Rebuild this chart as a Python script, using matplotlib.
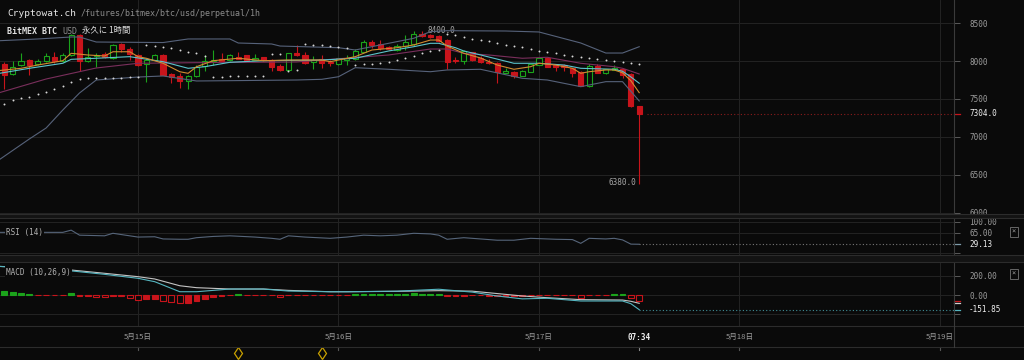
import numpy as np
import matplotlib
matplotlib.use('Agg')
import matplotlib.pyplot as plt
import matplotlib.transforms as mtransforms
from matplotlib.patches import Rectangle
from matplotlib.lines import Line2D

plt.rcParams['font.family'] = ['DejaVu Sans Mono', 'Noto Sans CJK JP']

# ---- data: 1h candles, hour 0 = 5/15 00:00
hours = np.arange(-16, 61)

opens = [7961, 7829, 7943, 8009, 7961, 7996, 8049, 7996, 8083, 8338,
         7996, 8062, 8092, 8040, 8224, 8162, 8075, 7961, 8017, 8075,
         7829, 7799, 7733, 7799, 7930, 7996, 8026, 8009, 8053, 8075,
         8017, 8049, 8017, 7930, 7885, 8105, 8075, 7983, 8026, 7991,
         7961, 8017, 8022, 8122, 8246, 8220, 8188, 8145, 8204, 8220,
         8351, 8342, 8329, 8276, 8013, 8000, 8114, 8040, 7991, 7978,
         7846, 7859, 7807, 7859, 7947, 8036, 7947, 7947, 7904, 7851,
         7671, 7934, 7838, 7882, 7891, 7829, 7408]
highs = [7987, 7996, 8105, 8026, 8026, 8105, 8114, 8105, 8349, 8355,
         8171, 8099, 8118, 8224, 8237, 8184, 8092, 8040, 8092, 8092,
         7842, 7842, 7816, 7947, 8083, 8149, 8105, 8092, 8118, 8082,
         8092, 8058, 8026, 7961, 8105, 8207, 8118, 8062, 8083, 8013,
         8046, 8079, 8158, 8276, 8276, 8276, 8204, 8220, 8342, 8400,
         8390, 8355, 8336, 8290, 8057, 8145, 8125, 8070, 8026, 7987,
         7908, 7868, 7882, 7967, 8046, 8053, 7954, 7954, 7914, 7862,
         7961, 7961, 7895, 7941, 7901, 7836, 7414]
lows = [7632, 7820, 7930, 7820, 7951, 7987, 7974, 7987, 8066, 7864,
        7987, 7917, 8040, 8026, 8118, 8013, 7934, 7720, 8009, 7810,
        7710, 7645, 7635, 7789, 7864, 7951, 7974, 8000, 8020, 7995,
        8007, 8000, 7872, 7872, 7875, 8066, 7961, 7899, 7908, 7938,
        7947, 7947, 8013, 8112, 8175, 8145, 8145, 8132, 8145, 8204,
        8316, 8309, 8250, 7895, 7970, 7957, 8000, 7975, 7961, 7717,
        7842, 7776, 7796, 7855, 7941, 7921, 7872, 7872, 7786, 7667,
        7664, 7836, 7833, 7878, 7772, 7395, 6380]
closes = [7820, 7917, 7996, 7951, 7996, 8062, 7996, 8083, 8338, 7996,
          8053, 8083, 8049, 8215, 8162, 8092, 7951, 8017, 8075, 7820,
          7786, 7733, 7799, 7917, 8004, 8017, 7996, 8075, 8030, 8004,
          8040, 8017, 7917, 7885, 8101, 8075, 7974, 8009, 7970, 7970,
          8036, 8043, 8132, 8246, 8211, 8175, 8158, 8201, 8250, 8351,
          8329, 8320, 8263, 7991, 8000, 8132, 8013, 7985, 7970, 7859,
          7872, 7803, 7872, 7957, 8036, 7925, 7925, 7917, 7838, 7675,
          7934, 7838, 7891, 7912, 7816, 7410, 7304]

# parabolic SAR, one dot per candle
sar = [7434, 7487, 7507, 7526, 7566, 7592, 7632, 7671, 7724, 7763,
       7770, 7772, 7776, 7778, 7780, 7783, 7785,
       8215, 8197, 8184, 8171, 8149, 8118, 8101, 8066,
       7789, 7792, 7796, 7799, 7803, 7805, 7809,
       8092, 8086, 7868, 7882,
       8224, 8215, 8211, 8197, 8184, 8171,
       7941, 7954, 7967, 7980, 7993, 8013, 8040, 8072, 8105, 8132, 8151,
       8355, 8336, 8316, 8296, 8276, 8257, 8237, 8217, 8197, 8178, 8158,
       8138, 8118, 8099, 8079, 8066, 8053, 8040, 8026, 8013, 8000, 7987,
       7974, 7967]

# moving averages / bollinger, read at key hours
ema_fast_h = [-17, -14, -12, -9, -8, -6, -4, -3, -1, 0, 1, 3, 5, 6, 7, 9, 12, 15, 18, 22,
              23, 26, 28, 31, 33, 35, 36, 37, 39, 41, 43, 45, 47, 48, 50, 52, 53, 54, 56,
              57, 58, 59, 60]
ema_fast = [7870, 7904, 7947, 8004, 8101, 8079, 8066, 8122, 8122, 8057, 8036, 7970, 7859,
            7838, 7925, 8004, 8036, 8004, 8013, 8013, 7991, 8057, 8145, 8175, 8211, 8276,
            8276, 8197, 8101, 8040, 7947, 7891, 7925, 7970, 7947, 7904, 7838, 7859, 7882,
            7882, 7845, 7740, 7583]
ema_mid_h = [-17, -13, -9, -8, -5, -1, 3, 6, 8, 11, 15, 22, 26, 30, 33, 35, 36, 38, 39, 41,
             45, 48, 51, 53, 57, 58, 59, 60]
ema_mid = [7830, 7904, 7970, 8022, 8036, 8057, 7991, 7904, 7925, 7983, 8004, 8013, 8036,
           8132, 8188, 8233, 8233, 8175, 8132, 8080, 7970, 7970, 7947, 7904, 7891, 7865,
           7790, 7707]
bb_mid_h = [-17, -11, -5, 0, 7, 19, 22, 30, 35, 37, 39, 42, 46, 49, 53, 57, 58, 60]
bb_mid = [7570, 7763, 7908, 7970, 7978, 7987, 8013, 8079, 8158, 8158, 8101, 8079, 8036,
          8049, 7970, 7925, 7904, 7829]
bb_up_h = [-17, -12, -8, -7, -5, 3, 6, 11, 12, 16, 17, 24, 26, 29, 33, 35, 37, 44, 48, 53,
           56, 58, 60]
bb_up = [8265, 8290, 8316, 8316, 8250, 8243, 8290, 8290, 8237, 8224, 8197, 8175, 8145,
         8211, 8299, 8386, 8399, 8395, 8382, 8237, 8105, 8105, 8188]
bb_lo_h = [-17, -13, -11, -9, -7, -5, 0, 3, 7, 11, 19, 22, 24, 26, 30, 35, 37, 41, 46, 49,
           53, 56, 58, 60]
bb_lo = [6671, 6974, 7118, 7355, 7579, 7750, 7789, 7803, 7737, 7741, 7750, 7759, 7793,
         7912, 7891, 7859, 7882, 7891, 7772, 7750, 7662, 7728, 7728, 7474]

# RSI (14)
rsi_h = [-17, -9, -8, -7, -4, -3, 0, 2, 3, 5, 6, 7, 9, 11, 14, 16, 17, 18, 20, 23, 25, 27,
         29, 31, 33, 35, 36, 37, 39, 41, 43, 45, 47, 49, 50, 52, 53, 54, 56, 57, 58, 59, 60]
rsi = [67, 67, 74, 58, 56, 64, 52, 53, 46, 45, 45, 50, 54, 56, 52, 48, 45, 56, 52, 48, 52,
       58, 56, 58, 64, 62, 58, 45, 50, 46, 42, 42, 48, 46, 45, 44, 32, 48, 46, 48, 43,
       29.5, 29.13]

# MACD (10,26,9)
macd_h = [-17, -12, -8, -4, 0, 2, 5, 7, 11, 15, 18, 23, 25, 31, 36, 40, 43, 46, 49, 53,
          58, 59, 60]
macd = [298, 275, 250, 214, 173, 138, 34, 34, 62, 62, 41, 34, 34, 40, 60, 30, -10, -40,
        -34, -62, -62, -90, -151.85]
signal = [298, 280, 259, 225, 190, 166, 96, 76, 62, 62, 48, 34, 34, 38, 45, 40, 15, -10,
          -28, -48, -52, -65, -86]
hist = [41, 28, 21, 7, -3, -3, -3, -3, 17, -10, -8, -24, -24, -8, -8, -28, -48, -45, -41,
        -59, -69, -83, -80, -59, -41, -17, -8, -5, 10, -5, -5, -5, -5, -17, -5, -5, -5,
        -5, -5, -5, -5, -5, 6, 12, 15, 15, 12, 12, 15, 18, 15, 12, 6, -6, -8, -6, -5, -5,
        -6, -10, -8, -8, -6, -5, -5, -5, -5, -5, -5, -28, -5, -5, -3, 7, 7, -35, -59]

day_pos = [0, 24, 48, 72, 96]
day_labels = ['5月15日', '5月16日', '5月17日', '5月18日', '5月19日']
now_label = '07:34'
event_hours = [12, 22]

# ---- figure
BG = '#0a0a0a'
GRID = '#232323'
UP = '#1ba31b'
DOWN = '#c8141b'
W, H = 1024, 360


def fx(px):
    return px / W


def fy(py):
    return 1 - py / H


fig = plt.figure(figsize=(10.24, 3.6), dpi=100)
fig.patch.set_facecolor(BG)
X0, X1 = -16.52, 97.68

ax = fig.add_axes([0, fy(214), fx(954), 214 / H])
ax_rsi = fig.add_axes([0, fy(255), fx(954), 37 / H])
ax_macd = fig.add_axes([0, fy(326), fx(954), 64 / H])
ax_t = fig.add_axes([0, 0, fx(954), 34 / H])


def style(a):
    a.set_facecolor(BG)
    a.set_xlim(X0, X1)
    a.set_xticks(day_pos)
    a.tick_params(axis='x', length=0, labelbottom=False)
    a.yaxis.tick_right()
    a.tick_params(axis='y', direction='out', length=4.3, width=0.7, color='#5a5a5a',
                  labelcolor='#9c9c9c', labelsize=5.5, pad=6.5)
    for s in ('left', 'top', 'bottom'):
        a.spines[s].set_visible(False)
    a.spines['right'].set_color('#3a3a3a')
    a.grid(True, color=GRID, lw=0.7)
    a.set_axisbelow(True)


def mark(a, val, color, label=None, lcolor='#f2f2f2'):
    tr = mtransforms.blended_transform_factory(a.transAxes, a.transData)
    a.plot([1, 1 + 6 / 954], [val, val], color=color, lw=0.9, transform=tr, clip_on=False)
    if label:
        a.text(1 + 15 / 954, val, label, transform=tr, color=lcolor, fontsize=5.5,
               va='center', ha='left', clip_on=False)


for a in (ax, ax_rsi, ax_macd):
    style(a)

# ---- price panel
o = np.array(opens, float)
c = np.array(closes, float)
hi = np.array(highs, float)
lo = np.array(lows, float)
up = c >= o
body_lo = np.minimum(o, c)
body_h = np.maximum(np.abs(c - o), 8)

ax.vlines(hours[up], lo[up], hi[up], color=UP, lw=0.8, zorder=2)
ax.vlines(hours[~up], lo[~up], hi[~up], color=DOWN, lw=0.8, zorder=2)
ax.bar(hours[up], body_h[up], bottom=body_lo[up], width=0.62, facecolor=BG,
       edgecolor=UP, lw=0.8, zorder=3)
ax.bar(hours[~up], body_h[~up], bottom=body_lo[~up], width=0.62, facecolor=DOWN,
       edgecolor=DOWN, lw=0.8, zorder=3)

ax.plot(bb_up_h, bb_up, color='#56627a', lw=0.8, zorder=4)
ax.plot(bb_lo_h, bb_lo, color='#56627a', lw=0.8, zorder=4)
ax.plot(bb_mid_h, bb_mid, color='#7a2f5c', lw=0.8, zorder=4)
ax.plot(ema_mid_h, ema_mid, color='#5cc4cc', lw=0.8, zorder=5)
ax.plot(ema_fast_h, ema_fast, color='#d38a30', lw=0.8, zorder=5)
ax.plot(hours, sar, 'o', ms=1.4, color='#d8d8d8', mec='none', zorder=6)

i_hi = int(np.argmax(hi))
i_lo = int(np.argmin(lo))
ax.annotate(f'{hi[i_hi]:.1f}', xy=(hours[i_hi], hi[i_hi]), xytext=(10, 0),
            textcoords='offset points', va='center', ha='left', color='#a8a8a8', fontsize=5.5)
ax.annotate(f'{lo[i_lo]:.1f}', xy=(hours[i_lo], lo[i_lo]), xytext=(-2.5, 1),
            textcoords='offset points', va='center', ha='right', color='#a8a8a8', fontsize=5.5)

ax.plot([hours[-1] + 0.9, X1], [c[-1], c[-1]], ls=(0, (1, 2)), color='#8a1c1c', lw=0.8)
ax.set_ylim(5986, 8803)
ax.set_yticks([6000, 6500, 7000, 7500, 8000, 8500])
mark(ax, c[-1], DOWN, f'{c[-1]:.1f}')

# ---- RSI panel
ax_rsi.plot(rsi_h, rsi, color='#56657a', lw=0.8)
ax_rsi.plot([hours[-1], X1], [rsi[-1], rsi[-1]], ls=(0, (1, 2)), color='#777777', lw=0.8)
ax_rsi.set_ylim(-5.1, 112.7)
ax_rsi.set_yticks([0, 65, 100])
ax_rsi.set_yticklabels(['', '65.00', '100.00'])
mark(ax_rsi, rsi[-1], '#7f9cab', f'{rsi[-1]:.2f}')
ax_rsi.text(fx(6) / fx(954), 0.62, 'RSI (14)', transform=ax_rsi.transAxes, color='#b0b0b0',
            fontsize=5.5, va='center', ha='left', zorder=7,
            bbox=dict(facecolor=BG, edgecolor='none', pad=1))

# ---- MACD panel
hv = np.array(hist, float)
prev = np.concatenate([[hv[0]], hv[:-1]])
pos = hv >= 0
neg_fall = (~pos) & (hv <= prev)
neg_rise = (~pos) & (hv > prev)
ax_macd.bar(hours[pos], hv[pos], width=0.7, facecolor=UP, edgecolor=UP, lw=0.8, zorder=2)
ax_macd.bar(hours[neg_rise], hv[neg_rise], width=0.7, facecolor=DOWN, edgecolor=DOWN,
            lw=0.8, zorder=2)
ax_macd.bar(hours[neg_fall], hv[neg_fall], width=0.7, facecolor=BG, edgecolor=DOWN,
            lw=0.8, zorder=2)
ax_macd.plot(macd_h, signal, color='#c4c4c4', lw=0.8, zorder=3)
ax_macd.plot(macd_h, macd, color='#55b5c0', lw=0.8, zorder=4)
ax_macd.plot([hours[-1], X1], [macd[-1], macd[-1]], ls=(0, (1, 2)), color='#3f8f98', lw=0.8)
ax_macd.set_ylim(-321, 342)
ax_macd.set_yticks([-200, 0, 200])
ax_macd.set_yticklabels(['', '0.00', '200.00'])
mark(ax_macd, hist[-1], DOWN)
mark(ax_macd, signal[-1], '#d0d0d0')
mark(ax_macd, macd[-1], '#55b5c0', f'{macd[-1]:.2f}')
ax_macd.text(fx(6) / fx(954), 0.84, 'MACD (10,26,9)', transform=ax_macd.transAxes,
             color='#b0b0b0', fontsize=5.5, va='center', ha='left', zorder=7,
             bbox=dict(facecolor=BG, edgecolor='none', pad=1))

# ---- time strip
ax_t.set_xlim(X0, X1)
ax_t.set_ylim(0, 1)
ax_t.axis('off')
for d, lab in zip(day_pos, day_labels):
    ax_t.text(d, 0.676, lab, ha='center', va='center', color='#9a9a9a', fontsize=5.5,
              family=['Noto Sans CJK JP'])
    ax_t.plot([d, d], [0.3, 0.382], color='#555555', lw=0.8)
ax_t.text(hours[-1], 0.676, now_label, ha='center', va='center', color='#f0f0f0',
          fontsize=5.5, fontweight='bold')
ax_t.plot([hours[-1], hours[-1]], [0.3, 0.382], color='#888888', lw=0.8)
ax_t.plot(event_hours, [0.206] * len(event_hours), ls='none', marker='d', ms=6,
          mfc='none', mec='#c9a100', mew=0.9)

# ---- separators and frame
for y0, y1 in [(214, 218), (255, 262)]:
    fig.add_artist(Rectangle((0, fy(y1)), 1, (y1 - y0) / H, transform=fig.transFigure,
                             facecolor='#131313', edgecolor='none', zorder=10))
for y in (214, 218, 255, 262, 326, 347):
    fig.add_artist(Line2D([0, 1], [fy(y), fy(y)], transform=fig.transFigure,
                          color='#2c2c2c', lw=0.8, zorder=11))
fig.add_artist(Line2D([fx(954), fx(954)], [fy(347), fy(326)], transform=fig.transFigure,
                      color='#3a3a3a', lw=0.8, zorder=11))

for yy in (232, 274):
    fig.text(fx(1014), fy(yy), '×', color='#9a9a9a', fontsize=5, ha='center', va='center',
             bbox=dict(boxstyle='square,pad=0.25', facecolor=BG, edgecolor='#666666', lw=0.7))

# ---- header
fig.text(fx(7), fy(14), 'Cryptowat.ch', color='#e6e6e6', fontsize=6.8, va='center', ha='left')
fig.text(fx(81), fy(14), '/futures/bitmex/btc/usd/perpetual/1h', color='#8c8c8c',
         fontsize=6, va='center', ha='left')
fig.text(fx(7), fy(31), 'BitMEX BTC', color='#e0e0e0', fontsize=6, fontweight='bold',
         va='center', ha='left')
fig.text(fx(62), fy(31), 'USD', color='#8c8c8c', fontsize=6, va='center', ha='left')
fig.text(fx(82), fy(31), '永久に 1時間', color='#e0e0e0', fontsize=6, va='center', ha='left',
         family=['Noto Sans CJK JP', 'DejaVu Sans Mono'])

fig.savefig('out.png', dpi=100, facecolor=BG)
